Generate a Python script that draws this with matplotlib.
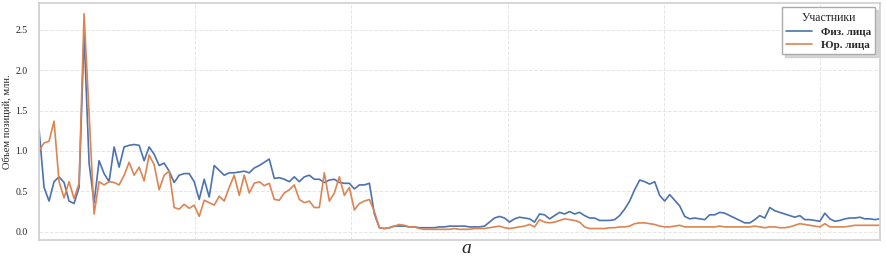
import numpy as np
import matplotlib
matplotlib.use("Agg")
import matplotlib.pyplot as plt
import seaborn as sns

# Volume of positions (mln), weekly points
fiz = [1.27, 0.55, 0.38, 0.62, 0.68, 0.61, 0.38, 0.35, 0.55, 2.45,
       0.85, 0.36, 0.88, 0.72, 0.62, 1.05, 0.80, 1.05, 1.07, 1.08,
       1.07, 0.88, 1.05, 0.96, 0.82, 0.85, 0.75, 0.61, 0.70, 0.72,
       0.72, 0.62, 0.40, 0.65, 0.43, 0.82, 0.76, 0.70, 0.73, 0.73,
       0.74, 0.75, 0.73, 0.79, 0.82, 0.86, 0.90, 0.66, 0.67, 0.65,
       0.62, 0.68, 0.62, 0.68, 0.70, 0.65, 0.65, 0.61, 0.64, 0.65,
       0.61, 0.60, 0.60, 0.53, 0.58, 0.58, 0.60, 0.22, 0.05, 0.04,
       0.05, 0.07, 0.07, 0.07, 0.06, 0.06, 0.05, 0.05, 0.05, 0.05,
       0.06, 0.06, 0.07, 0.07, 0.07, 0.07, 0.06, 0.06, 0.06, 0.07,
       0.12, 0.17, 0.19, 0.17, 0.12, 0.16, 0.18, 0.17, 0.16, 0.12,
       0.22, 0.21, 0.16, 0.20, 0.24, 0.22, 0.25, 0.22, 0.24, 0.20,
       0.17, 0.17, 0.14, 0.14, 0.14, 0.15, 0.20, 0.28, 0.38, 0.52,
       0.64, 0.62, 0.59, 0.62, 0.45, 0.38, 0.46, 0.39, 0.32, 0.19,
       0.16, 0.17, 0.16, 0.15, 0.21, 0.21, 0.24, 0.23, 0.20, 0.17,
       0.14, 0.11, 0.11, 0.15, 0.20, 0.17, 0.30, 0.26, 0.24, 0.22,
       0.20, 0.18, 0.20, 0.15, 0.15, 0.14, 0.13, 0.23, 0.16, 0.13,
       0.14, 0.16, 0.17, 0.17, 0.18, 0.16, 0.16, 0.15, 0.16]

yur = [1.00, 1.10, 1.12, 1.37, 0.62, 0.42, 0.62, 0.41, 0.60, 2.70,
       1.45, 0.22, 0.62, 0.58, 0.62, 0.61, 0.58, 0.70, 0.86, 0.70,
       0.80, 0.63, 0.95, 0.83, 0.52, 0.70, 0.75, 0.30, 0.28, 0.34,
       0.29, 0.33, 0.19, 0.39, 0.36, 0.33, 0.44, 0.38, 0.55, 0.70,
       0.45, 0.70, 0.48, 0.60, 0.62, 0.57, 0.60, 0.40, 0.39, 0.48,
       0.52, 0.58, 0.40, 0.36, 0.38, 0.30, 0.30, 0.73, 0.38, 0.48,
       0.68, 0.45, 0.55, 0.27, 0.35, 0.38, 0.40, 0.25, 0.05, 0.04,
       0.05, 0.07, 0.09, 0.08, 0.06, 0.06, 0.04, 0.03, 0.03, 0.03,
       0.03, 0.03, 0.03, 0.04, 0.03, 0.03, 0.03, 0.04, 0.04, 0.04,
       0.05, 0.06, 0.07, 0.05, 0.04, 0.05, 0.06, 0.07, 0.09, 0.06,
       0.15, 0.12, 0.11, 0.12, 0.14, 0.16, 0.15, 0.14, 0.12, 0.06,
       0.04, 0.04, 0.04, 0.04, 0.05, 0.05, 0.06, 0.06, 0.07, 0.10,
       0.11, 0.11, 0.10, 0.09, 0.07, 0.06, 0.06, 0.07, 0.08, 0.06,
       0.06, 0.06, 0.06, 0.06, 0.06, 0.06, 0.07, 0.06, 0.06, 0.06,
       0.06, 0.06, 0.06, 0.07, 0.06, 0.05, 0.06, 0.06, 0.05, 0.05,
       0.06, 0.08, 0.10, 0.09, 0.08, 0.07, 0.06, 0.10, 0.06, 0.06,
       0.06, 0.06, 0.07, 0.08, 0.08, 0.08, 0.08, 0.08, 0.08]

labels = ["Физ. лица", "Юр. лица"]

sns.set_theme(style="whitegrid")
plt.rcParams['font.family'] = ['Liberation Serif', 'DejaVu Serif']

fig = plt.figure(figsize=(8.87, 2.63), dpi=100)
ax = fig.add_axes([0.044, 0.087, 0.948, 0.902])

x = np.arange(len(fiz))
ax.plot(x, fiz, color="#4c72b0", lw=1.2, label=labels[0])
ax.plot(x, yur, color="#dd8452", lw=1.2, label=labels[1])

ax.set_xlim(0, len(fiz) - 1)
ax.set_xticks(np.arange(0, len(fiz), 31.2))
ax.set_xticklabels([])
ax.set_yticks([0.0, 0.5, 1.0, 1.5, 2.0, 2.5])
ax.tick_params(axis="y", labelsize=7, pad=2)
ax.set_ylabel("Объем позиций, млн.", fontsize=7.5, labelpad=3)

ax.grid(True, color="#e6e6e6", lw=0.7, ls="--")
for s in ax.spines.values():
    s.set_color("#d0d0d0")

leg = ax.legend(title="Участники", loc="upper right",
                title_fontsize=8.5, prop={"weight": "bold", "size": 8},
                frameon=True, fancybox=False,
                shadow={"color": "0.75", "alpha": 0.6},
                handlelength=2.3, borderpad=0.4, labelspacing=0.3,
                borderaxespad=0.4)
leg.get_frame().set_edgecolor("#aaaaaa")

fig.text(0.526, 0.057, "а", fontsize=14, style="italic",
         ha="center", va="center")

fig.savefig("out.png", dpi=100)
